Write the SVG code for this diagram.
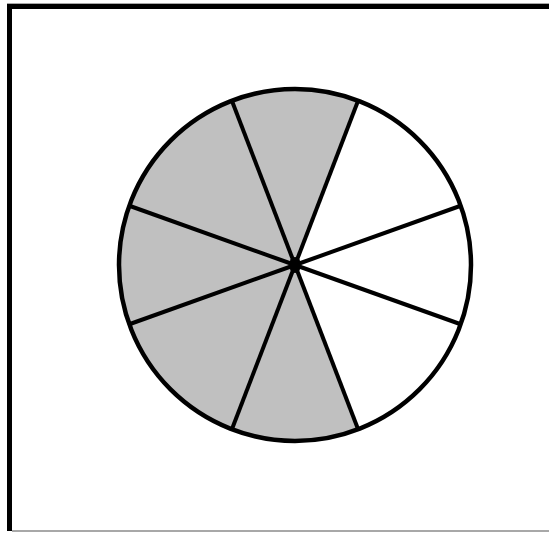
<svg xmlns="http://www.w3.org/2000/svg" width="549" height="533" viewBox="0 0 549 533">
<style>
.spoke{stroke:#000;stroke-width:4;fill:none}
.edge{stroke:#000;stroke-width:4.5;fill:none}
</style>
<rect x="0" y="0" width="549" height="533" fill="#fff"/>
<g id="frame">
<rect x="7" y="3" width="542" height="1" fill="#a8a8a8"/>
<rect x="7" y="4" width="542" height="5" fill="#000"/>
<rect x="7" y="4" width="5" height="527" fill="#000"/>
<rect x="12" y="530" width="537" height="2" fill="#a8a8a8"/>
</g>
<g id="pie">
<path d="M295,265 L358,101 A176,176 0 1 0 358,429 Z" fill="#c0c0c0"/>
<circle class="edge" cx="295" cy="265" r="176"/>
</g>
<g id="spokes">
<line class="spoke" x1="295" y1="265" x2="232" y2="101"/>
<line class="spoke" x1="295" y1="265" x2="358" y2="101"/>
<line class="spoke" x1="295" y1="265" x2="460" y2="206"/>
<line class="spoke" x1="295" y1="265" x2="460" y2="324"/>
<line class="spoke" x1="295" y1="265" x2="358" y2="429"/>
<line class="spoke" x1="295" y1="265" x2="232" y2="429"/>
<line class="spoke" x1="295" y1="265" x2="130" y2="324"/>
<line class="spoke" x1="295" y1="265" x2="130" y2="206"/>
<ellipse cx="295" cy="265" rx="6" ry="8" fill="#000"/>
</g>
</svg>
